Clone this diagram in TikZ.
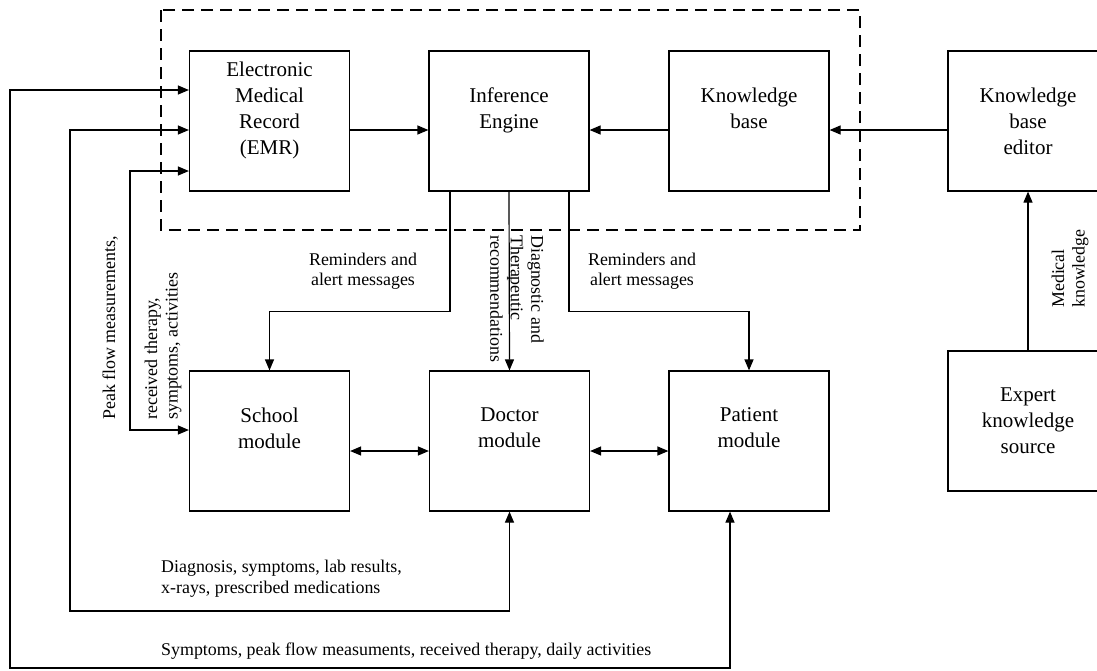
\documentclass[tikz,border=0pt]{standalone}
\usepackage{fontspec}
\setmainfont{Liberation Serif}
\usetikzlibrary{arrows.meta}
\newcommand{\bxfont}{\fontsize{21}{26}\selectfont}
\newcommand{\lbfont}{\fontsize{17.9}{20.5}\selectfont}
\tikzset{
  module/.style={draw, line width=1.2pt, minimum width=160pt, minimum height=140pt, inner sep=0pt, align=center, font=\bxfont},
  flow/.style={line width=1.2pt, -{Triangle[length=11pt,width=9pt]}},
  both/.style={line width=1.2pt, {Triangle[length=11pt,width=9pt]}-{Triangle[length=11pt,width=9pt]}},
  lbl/.style={inner sep=0pt, font=\lbfont},
}
\begin{document}
\begin{tikzpicture}[x=1pt,y=-1pt]

        \clip (0,0) rectangle (1097,670);

        % Define the modules
        \node[module] (emr)     at (269.5,121) {Electronic\\Medical\\Record\\(EMR)\\~};
        \node[module] (infer)   at (509,121)   {Inference\\Engine\\~};
        \node[module] (kb)      at (749,121)   {Knowledge\\base\\~};
        \node[module] (editor)  at (1028,121)  {Knowledge\\base\\editor};
        \node[module] (school)  at (269.5,441) {School\\module\\~};
        \node[module] (doctor)  at (509.5,441) {Doctor\\module\\~};
        \node[module] (patient) at (749,441)   {Patient\\module\\~};
        \node[module] (expert)  at (1028,421)  {Expert\\knowledge\\source};

        % Corners of the feedback lines
        \coordinate (outer)  at (10,668);
        \coordinate (middle) at (70,611);
        \coordinate (inner)  at (130,430);

        % Draw the system frame
        \draw[dash pattern=on 12pt off 7pt, line width=1.2pt] (161,10) rectangle (860,230);

        % Draw connections in the top row
        \draw[flow] ([yshift=-9pt]emr.east) -- ([yshift=-9pt]infer.west);
        \draw[flow] ([yshift=-9pt]kb.west) -- ([yshift=-9pt]infer.east);
        \draw[flow] ([yshift=-9pt]editor.west) -- ([yshift=-9pt]kb.east);
        \draw[flow] (expert.north) -- (editor.south);

        % Draw outputs of the inference engine
        \draw[flow] ([xshift=-59pt]infer.south) -- ++(0,120) -| (school.north);
        \draw[flow] (infer.south) -- (doctor.north);
        \draw[flow] ([xshift=60pt]infer.south) -- ++(0,120) -| (patient.north);

        % Draw links between the modules
        \draw[both] ([yshift=-10pt]school.east) -- ([yshift=-10pt]doctor.west);
        \draw[both] ([yshift=-10pt]doctor.east) -- ([yshift=-10pt]patient.west);

        % Draw feedback lines to the EMR
        \draw[both] ([yshift=31pt]emr.west) -| (outer) -| ([xshift=-19pt]patient.south);
        \draw[both] ([yshift=-9pt]emr.west) -| (middle) -| (doctor.south);
        \draw[both] ([yshift=-50pt]emr.west) -| (inner) -- (school.west |- inner);

        % Add labels
        \node[lbl, align=center] (remschool)  at (363,271) {Reminders and\\alert messages};
        \node[lbl, align=center] (rempatient) at (642,271) {Reminders and\\alert messages};
        \node[lbl, align=left, rotate=-90, anchor=west] (diag) at (517,235) {Diagnostic and\\Therapeutic\\recommendations};
        \node[lbl, align=left, rotate=90, anchor=west] (peak) at (142,420) {Peak flow measurements,\\[21.5pt]received therapy,\\symptoms, activities};
        \node[lbl, align=left, rotate=90, anchor=west] (medical) at (1070,308) {Medical\\knowledge};
        \node[lbl, align=left, anchor=north west] (diagnosis) at (161,560) {Diagnosis, symptoms, lab results,\\x-rays, prescribed medications};
        \node[lbl, anchor=base west] (symptoms) at (161,655) {Symptoms, peak flow measuments, received therapy, daily activities};

\end{tikzpicture}
\end{document}
